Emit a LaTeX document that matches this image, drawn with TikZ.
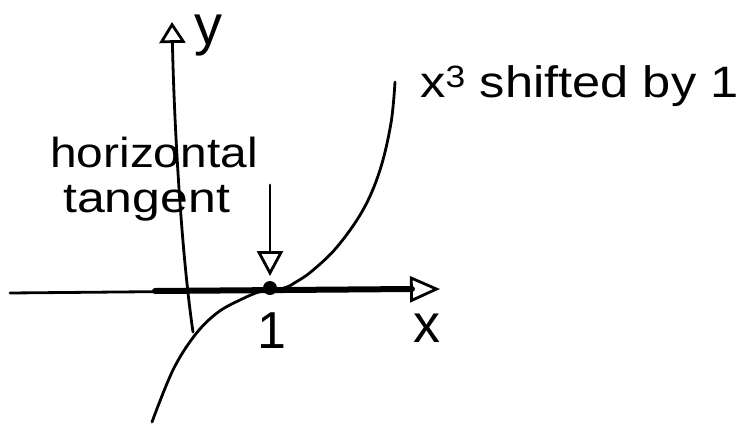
\documentclass[tikz,border=0pt]{standalone}
\usepackage{fontspec}
\setmainfont{Liberation Sans}
\usetikzlibrary{arrows.meta}
\tikzset{
  thinline/.style={line width=2.8pt, line cap=round, line join=round},
  thickline/.style={line width=6pt, line cap=round},
  opentip/.style={-{Triangle[open, length=#1, width=26pt, line width=2.8pt]}},
  handtext/.style={inner sep=0pt, anchor=base west, font=\fontsize{42}{46}\selectfont},
}
\begin{document}
\begin{tikzpicture}[x=1pt, y=-1pt]
\useasboundingbox (0,0) rectangle (740,424);
% coordinates
\coordinate (xl) at (10,293);
\coordinate (ts) at (155,291);
\coordinate (te) at (412,289);
\coordinate (xr) at (440,289);
\coordinate (yb) at (193,332);
\coordinate (yt) at (172,22);
\coordinate (p) at (270,288);
\coordinate (as) at (270,185);
\coordinate (ae) at (270,276);
% x axis
\draw[thinline, opentip=30pt] (xl) -- (xr);
\draw[thickline] (ts) -- (te);
% y axis
\draw[thinline, opentip=21pt] (yb) .. controls (181,250) and (174,120) .. (yt);
% curve
\draw[thinline] plot[smooth, tension=0.6] coordinates {(152,422) (173,370) (195,335) (217,313) (240,300) (262,291) (284,288) (296,282) (312,271) (337,247) (363,210) (380,170) (391,123) (395,82)};
% dot
\fill (p) circle (7pt);
% arrow to point
\draw[thinline, opentip=25pt] (as) -- (ae);
% labels
\node[inner sep=0pt, anchor=base, font=\fontsize{56}{60}\selectfont] (ylab) at (208,44) {y};
\node[inner sep=0pt, anchor=base, font=\fontsize{54}{58}\selectfont] (xlab) at (427,342) {x};
\node[inner sep=0pt, anchor=base, font=\fontsize{52}{56}\selectfont] (one) at (272,348) {1};
\node[handtext, xscale=1.14] (h1) at (50,167) {horizontal};
\node[handtext, xscale=1.19] (h2) at (63,212) {tangent};
\node[handtext, xscale=1.15, font=\fontsize{44}{48}\selectfont] (lab) at (420,97) {x\textsuperscript{3} shifted by 1};
\end{tikzpicture}
\end{document}
